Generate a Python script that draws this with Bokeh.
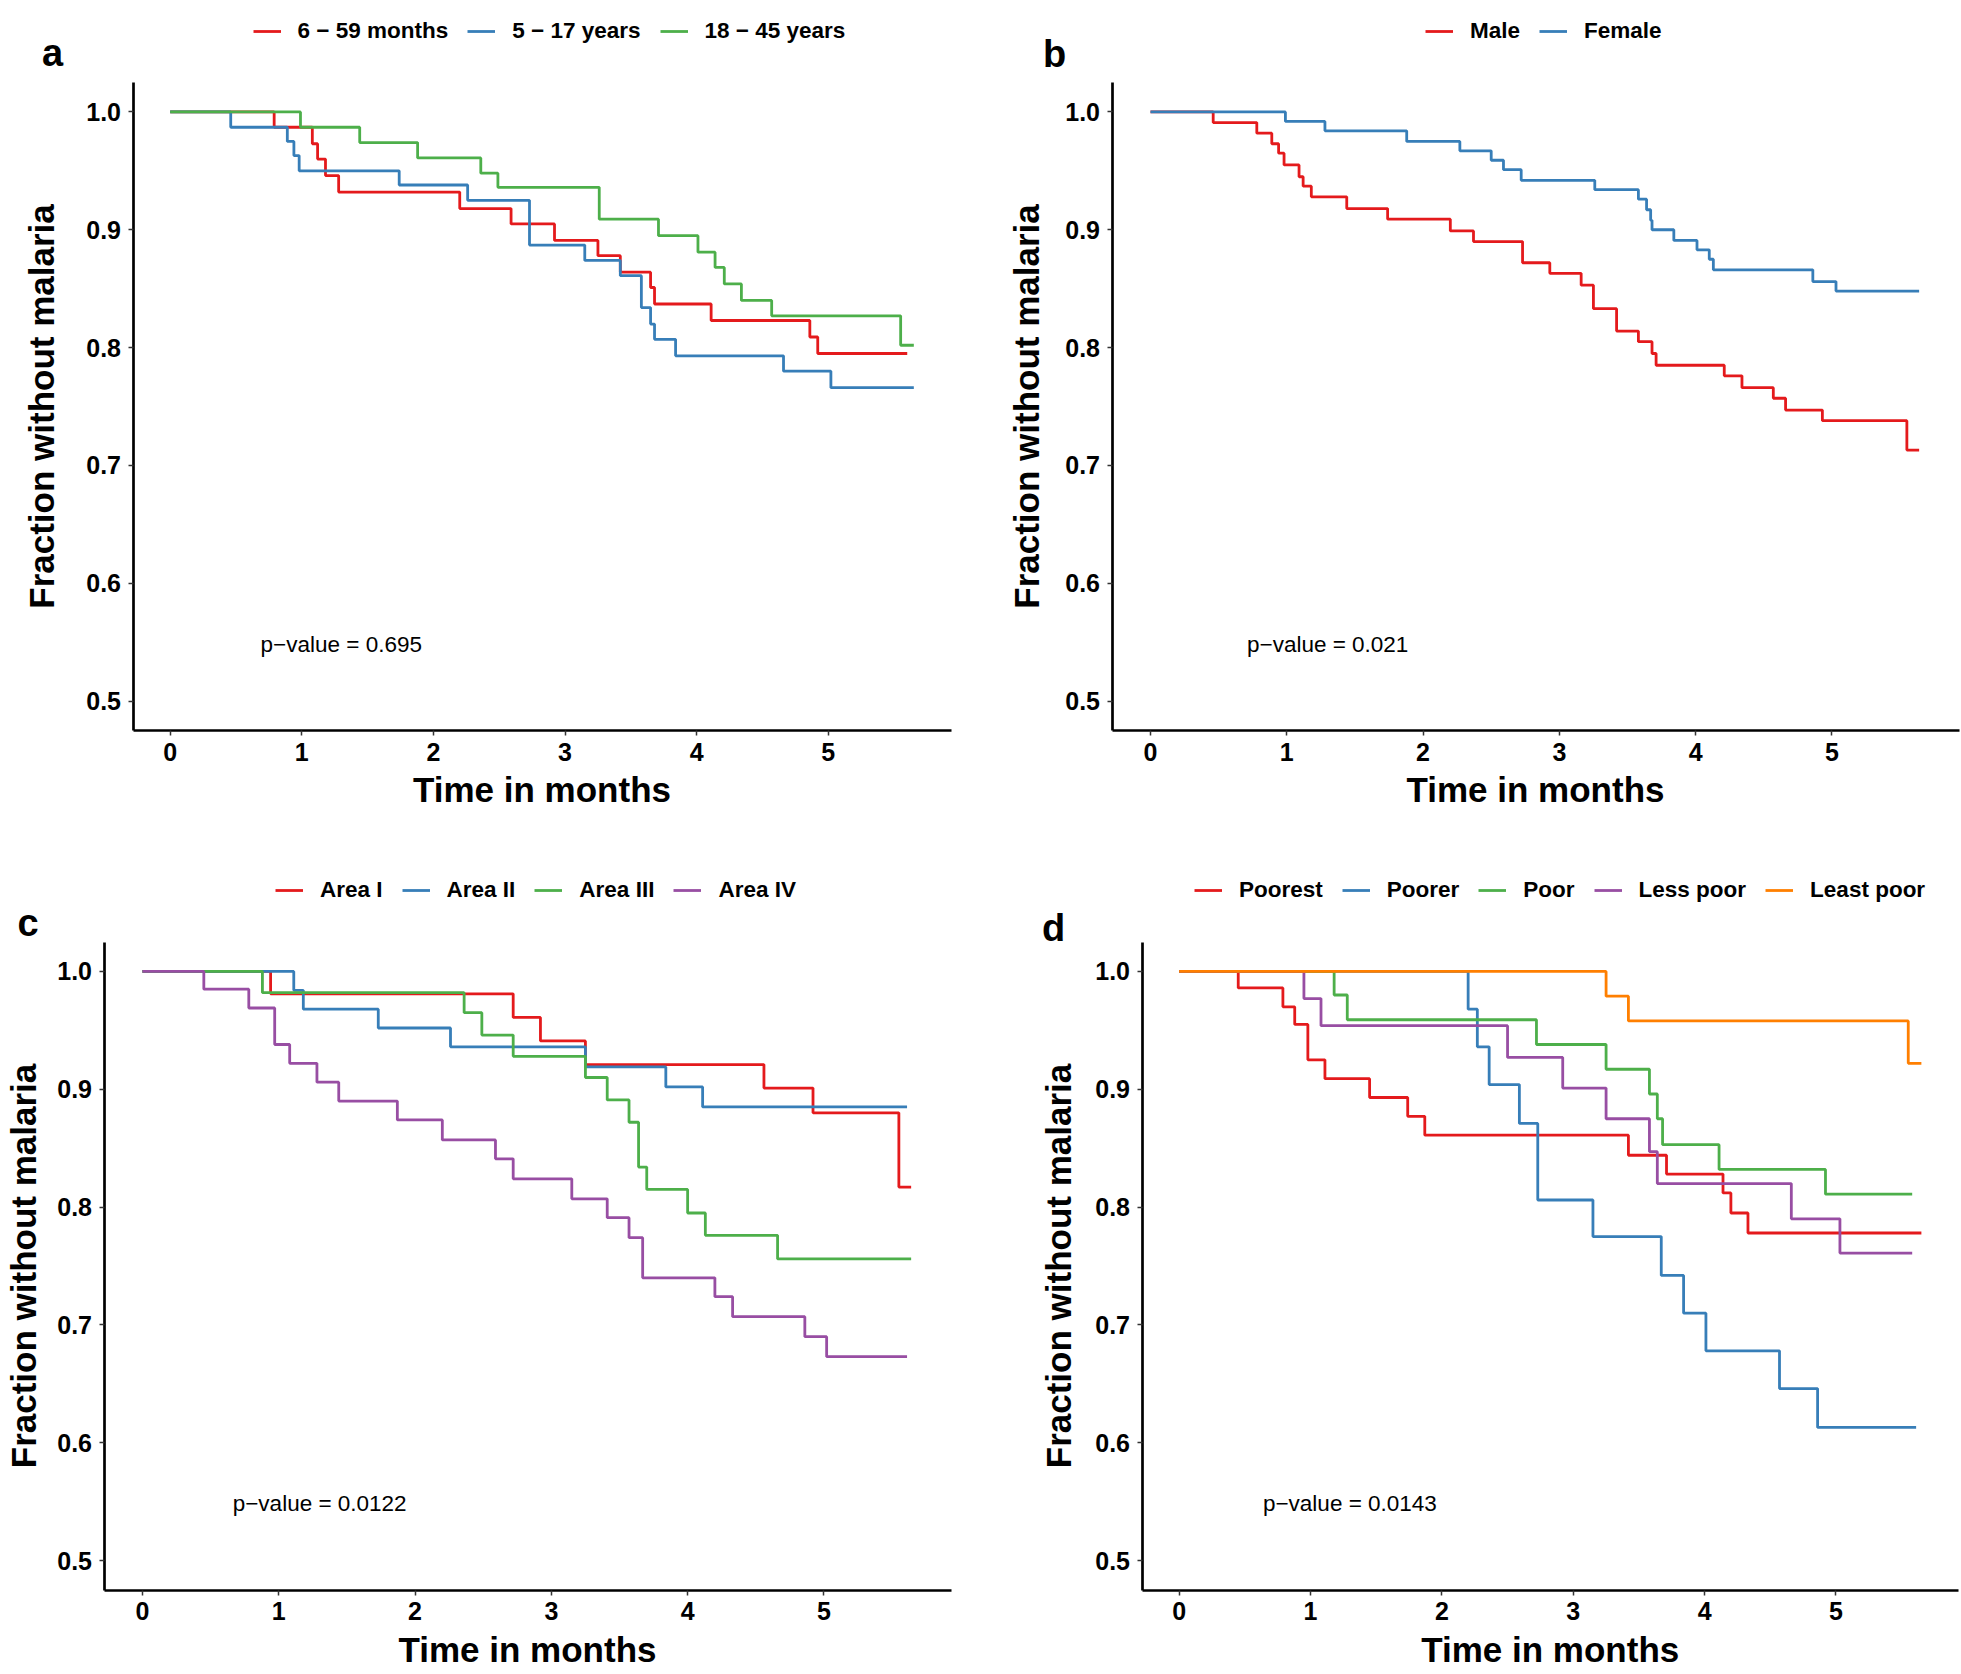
import math
from bokeh.plotting import figure
from bokeh.models import Range1d, FixedTicker, PrintfTickFormatter, Legend, LegendItem, Label
from bokeh.layouts import column, row
from bokeh.embed import file_html
from bokeh.resources import INLINE

FONT = "Liberation Sans"
RED, BLUE, GREEN, PURPLE, ORANGE = "#E41A1C", "#377EB8", "#4DAF4A", "#984EA3", "#FF7F00"

x_ticks = [0, 1, 2, 3, 4, 5]
y_ticks = [0.5, 0.6, 0.7, 0.8, 0.9, 1.0]
x_title = "Time in months"
y_title = "Fraction without malaria"

# ---- Panel a: age groups ----
a_labels = ["6 \u2212 59 months", "5 \u2212 17 years", "18 \u2212 45 years"]
a_p = "p\u2212value = 0.695"
a1_t = [0.79, 1.08, 1.12, 1.18, 1.28, 2.20, 2.59, 2.92, 3.25, 3.42, 3.65, 3.68, 4.11, 4.86, 4.92]
a1_s = [0.987, 0.973, 0.960, 0.946, 0.932, 0.918, 0.905, 0.891, 0.878, 0.864, 0.851, 0.837, 0.823, 0.809, 0.795]
a1_end = 5.60
a2_t = [0.46, 0.89, 0.94, 0.98, 1.74, 2.26, 2.73, 3.15, 3.42, 3.58, 3.65, 3.68, 3.84, 4.66, 5.02]
a2_s = [0.987, 0.975, 0.963, 0.950, 0.938, 0.925, 0.887, 0.874, 0.861, 0.834, 0.820, 0.807, 0.793, 0.780, 0.766]
a2_end = 5.65
a3_t = [0.99, 1.44, 1.88, 2.36, 2.49, 3.26, 3.71, 4.01, 4.14, 4.21, 4.34, 4.57, 5.55]
a3_s = [0.987, 0.974, 0.961, 0.948, 0.936, 0.909, 0.895, 0.881, 0.868, 0.854, 0.840, 0.827, 0.802]
a3_end = 5.65

# ---- Panel b: sex ----
b_labels = ["Male", "Female"]
b_p = "p\u2212value = 0.021"
b1_t = [0.46, 0.78, 0.89, 0.94, 0.98, 1.09, 1.12, 1.18, 1.44, 1.74, 2.20, 2.37, 2.73, 2.93, 3.16, 3.25,
        3.42, 3.58, 3.68, 3.71, 4.21, 4.34, 4.57, 4.66, 4.93, 5.55]
b1_s = [0.991, 0.982, 0.973, 0.965, 0.955, 0.945, 0.937, 0.928, 0.918, 0.909, 0.899, 0.890, 0.872, 0.863,
        0.853, 0.833, 0.814, 0.805, 0.795, 0.785, 0.776, 0.766, 0.757, 0.747, 0.738, 0.713]
b1_end = 5.64
b2_t = [0.99, 1.28, 1.88, 2.27, 2.50, 2.59, 2.72, 3.26, 3.58, 3.64, 3.67, 3.68, 3.84, 4.01, 4.10, 4.13, 4.86, 5.03]
b2_s = [0.992, 0.984, 0.975, 0.967, 0.959, 0.951, 0.942, 0.934, 0.926, 0.917, 0.908, 0.900, 0.891, 0.883,
        0.875, 0.866, 0.856, 0.848]
b2_end = 5.64

# ---- Panel c: areas ----
c_labels = ["Area I", "Area II", "Area III", "Area IV"]
c_p = "p\u2212value = 0.0122"
c1_t = [0.94, 2.72, 2.92, 3.25, 4.56, 4.92, 5.55]
c1_s = [0.981, 0.961, 0.941, 0.921, 0.901, 0.880, 0.817]
c1_end = 5.64
c2_t = [1.11, 1.18, 1.73, 2.26, 3.25, 3.84, 4.11]
c2_s = [0.984, 0.968, 0.952, 0.936, 0.919, 0.902, 0.885]
c2_end = 5.61
c3_t = [0.88, 2.36, 2.49, 2.72, 3.25, 3.41, 3.57, 3.64, 3.70, 4.00, 4.13, 4.66]
c3_s = [0.982, 0.965, 0.946, 0.928, 0.910, 0.891, 0.872, 0.834, 0.815, 0.795, 0.776, 0.756]
c3_end = 5.64
c4_t = [0.45, 0.78, 0.97, 1.08, 1.28, 1.44, 1.87, 2.20, 2.59, 2.72, 3.15, 3.41, 3.57, 3.67, 4.20, 4.33, 4.86, 5.02]
c4_s = [0.985, 0.969, 0.938, 0.922, 0.906, 0.890, 0.874, 0.857, 0.841, 0.824, 0.807, 0.791, 0.774, 0.740,
        0.724, 0.707, 0.690, 0.673]
c4_end = 5.61

# ---- Panel d: wealth ----
d_labels = ["Poorest", "Poorer", "Poor", "Less poor", "Least poor"]
d_p = "p\u2212value = 0.0143"
d1_t = [0.45, 0.79, 0.88, 0.98, 1.11, 1.45, 1.74, 1.87, 3.42, 3.71, 4.14, 4.20, 4.33]
d1_s = [0.986, 0.970, 0.955, 0.925, 0.909, 0.893, 0.877, 0.861, 0.844, 0.828, 0.812, 0.795, 0.778]
d1_end = 5.65
d2_t = [2.20, 2.27, 2.36, 2.59, 2.73, 3.15, 3.67, 3.84, 4.01, 4.57, 4.86]
d2_s = [0.968, 0.936, 0.904, 0.871, 0.806, 0.775, 0.742, 0.710, 0.678, 0.646, 0.613]
d2_end = 5.61
d3_t = [1.18, 1.28, 2.72, 3.25, 3.58, 3.64, 3.68, 4.11, 4.92]
d3_s = [0.980, 0.959, 0.938, 0.917, 0.896, 0.875, 0.853, 0.832, 0.811]
d3_end = 5.58
d4_t = [0.95, 1.08, 2.50, 2.92, 3.25, 3.58, 3.64, 4.66, 5.03]
d4_s = [0.977, 0.954, 0.927, 0.901, 0.875, 0.847, 0.820, 0.790, 0.761]
d4_end = 5.58
d5_t = [3.25, 3.42, 5.55]
d5_s = [0.979, 0.958, 0.922]
d5_end = 5.65

# ggplot panel data limits (5% expansion)
X0, X1 = -0.2825, 5.9325
Y0, Y1 = 0.475, 1.025


def make_panel(canvas, panel, series, labels, colors, letter, letter_px, ptext, ytitle_px, legend_px):
    cx0, cy0, cx1, cy1 = canvas          # figure box in page pixels
    L, R, T, B = panel                   # ggplot panel box in page pixels
    kx = (R - L) / (X1 - X0)
    ky = (B - T) / (Y1 - Y0)

    def dx(px):
        return X0 + (px - L) / kx

    def dy(py):
        return Y0 + (B - py) / ky

    p = figure(width=cx1 - cx0, height=cy1 - cy0, output_backend="svg", toolbar_location=None, tools="",
               x_range=Range1d(dx(cx0), dx(cx1)), y_range=Range1d(dy(cy1), dy(cy0)),
               min_border_left=0, min_border_right=0, min_border_top=0, min_border_bottom=0)
    p.outline_line_color = None
    p.grid.visible = False
    p.background_fill_color = "white"
    p.border_fill_color = "white"

    for ax in (p.xaxis[0], p.yaxis[0]):
        ax.axis_line_color = "black"
        ax.axis_line_width = 2.7
        ax.major_tick_line_color = "#333333"
        ax.major_tick_line_width = 1.5
        ax.major_tick_out = 5
        ax.major_tick_in = 0
        ax.minor_tick_line_color = None
        ax.major_label_text_font = FONT
        ax.major_label_text_font_style = "bold"
        ax.major_label_text_font_size = "25px"
        ax.major_label_text_color = "black"
        ax.major_label_standoff = 7
    p.xaxis.ticker = FixedTicker(ticks=x_ticks)
    p.yaxis.ticker = FixedTicker(ticks=y_ticks)
    p.yaxis.formatter = PrintfTickFormatter(format="%.1f")
    p.xaxis.fixed_location = Y0
    p.yaxis.fixed_location = X0
    p.xaxis.bounds = (X0, X1)
    p.yaxis.bounds = (Y0, Y1)

    items = []
    for (t, s, end), lab, col in zip(series, labels, colors):
        xs = [0.0] + list(t) + [end]
        ys = [1.0] + list(s) + [s[-1]]
        r = p.step(x=xs, y=ys, mode="after", line_color=col, line_width=2.8)
        items.append(LegendItem(label=lab, renderers=[r]))

    lh = 28
    gx, gy = legend_px   # left of first key line, vertical centre of legend row
    leg = Legend(items=items, orientation="horizontal",
                 location=(gx - cx0, cy1 - (gy + lh / 2)),
                 label_text_font=FONT, label_text_font_style="bold", label_text_font_size="22.5px",
                 label_text_color="black", glyph_width=28, glyph_height=lh, label_height=lh,
                 label_standoff=17, spacing=19, padding=0, margin=0,
                 border_line_color=None, background_fill_alpha=0)
    p.add_layout(leg)

    p.add_layout(Label(x=dx(letter_px[0]), y=dy(letter_px[1] - 13), text=letter, text_font=FONT,
                       text_font_style="bold", text_font_size="38px", text_align="center",
                       text_baseline="alphabetic", text_color="black"))
    p.add_layout(Label(x=1.3, y=0.5484, text=ptext, text_font=FONT, text_font_size="22.5px",
                       text_align="center", text_baseline="alphabetic", text_color="black"))
    p.add_layout(Label(x=(X0 + X1) / 2, y=dy(B + 59), text=x_title, text_font=FONT,
                       text_font_style="bold", text_font_size="35px", text_align="center",
                       text_baseline="alphabetic", text_color="black"))
    p.add_layout(Label(x=dx(ytitle_px - 12), y=(Y0 + Y1) / 2, text=y_title, text_font=FONT,
                       angle=math.pi / 2, text_font_style="bold", text_font_size="35px",
                       text_align="center", text_baseline="alphabetic", text_color="black"))
    return p


pa = make_panel((0, 0, 980, 840), (132.5, 950.5, 82, 730),
                [(a1_t, a1_s, a1_end), (a2_t, a2_s, a2_end), (a3_t, a3_s, a3_end)],
                a_labels, [RED, BLUE, GREEN], "a", (52, 65), a_p, 53.3, (252.6, 31))
pb = make_panel((980, 0, 1960, 840), (1111.5, 1958.5, 82, 730),
                [(b1_t, b1_s, b1_end), (b2_t, b2_s, b2_end)],
                b_labels, [RED, BLUE], "b", (1054, 66), b_p, 1038, (1425, 31))
pc = make_panel((0, 840, 980, 1672), (103.5, 950.5, 941.5, 1589.5),
                [(c1_t, c1_s, c1_end), (c2_t, c2_s, c2_end), (c3_t, c3_s, c3_end), (c4_t, c4_s, c4_end)],
                c_labels, [RED, BLUE, GREEN, PURPLE], "c", (27.5, 935), c_p, 34.5, (275, 890))
pd_ = make_panel((980, 840, 1960, 1672), (1141.5, 1958, 941.5, 1589.5),
                 [(d1_t, d1_s, d1_end), (d2_t, d2_s, d2_end), (d3_t, d3_s, d3_end),
                  (d4_t, d4_s, d4_end), (d5_t, d5_s, d5_end)],
                 d_labels, [RED, BLUE, GREEN, PURPLE, ORANGE], "d", (1053, 940), d_p, 1070, (1194, 890))

layout = column(row(pa, pb), row(pc, pd_))
open("out.html", "w").write(file_html(layout, INLINE))
